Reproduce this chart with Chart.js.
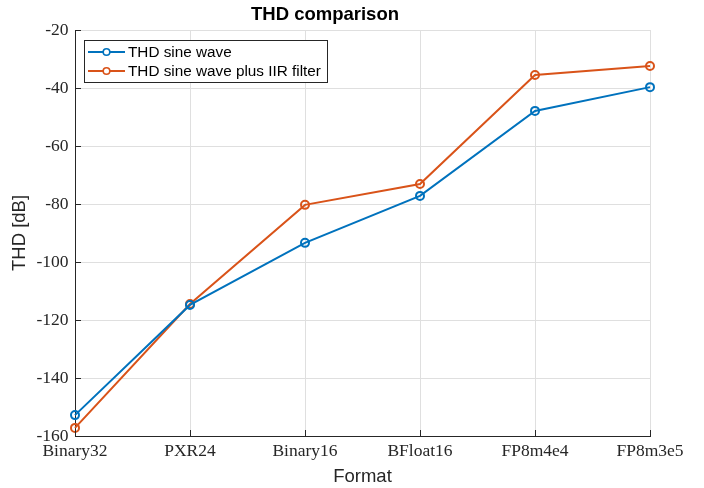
<!DOCTYPE html>
<html>
<head>
<meta charset="utf-8">
<script src="https://cdn.jsdelivr.net/npm/chart.js@4"></script>
<style>
  html, body { margin: 0; padding: 0; background: #ffffff; }
  #wrap { width: 704px; height: 488px; }
</style>
</head>
<body>
<div id="wrap"><canvas id="c" width="704" height="488"></canvas></div>
<script>
const categories = ["Binary32", "PXR24", "Binary16", "BFloat16", "FP8m4e4", "FP8m3e5"];
const sineWave = [-152.8, -114.8, -93.4, -77.2, -47.9, -39.7];
const sineWaveIIR = [-157.2, -114.5, -80.3, -73.1, -35.5, -32.4];
const seriesLabels = ["THD sine wave", "THD sine wave plus IIR filter"];
const yTicks = [-160, -140, -120, -100, -80, -60, -40, -20];

const BLUE = '#0072BD';
const ORANGE = '#D95319';
const AXIS = '#262626';

const innerTicks = {
  id: 'innerTicks',
  afterDraw(chart) {
    const ctx = chart.ctx;
    const a = chart.chartArea;
    const xs = chart.scales.x, ys = chart.scales.y;
    ctx.save();
    ctx.strokeStyle = AXIS;
    ctx.lineWidth = 1;
    ctx.beginPath();
    xs.ticks.forEach((t, i) => {
      const px = Math.round(xs.getPixelForTick(i)) + 0.5;
      ctx.moveTo(px, a.bottom);
      ctx.lineTo(px, a.bottom - 6);
    });
    ys.ticks.forEach((t, i) => {
      const py = Math.round(ys.getPixelForTick(i)) + 0.5;
      ctx.moveTo(a.left, py);
      ctx.lineTo(a.left + 6, py);
    });
    ctx.stroke();
    ctx.restore();
  }
};

const boxLegend = {
  id: 'boxLegend',
  afterDatasetsDraw(chart) {
    const ctx = chart.ctx;
    const x0 = 84.5, y0 = 40.5, w = 243, h = 42;
    ctx.save();
    ctx.fillStyle = '#ffffff';
    ctx.fillRect(x0, y0, w, h);
    ctx.strokeStyle = AXIS;
    ctx.lineWidth = 1;
    ctx.strokeRect(x0, y0, w, h);
    ctx.font = '15.3px "Liberation Sans", Arial, sans-serif';
    ctx.textBaseline = 'middle';
    ctx.textAlign = 'left';
    chart.data.datasets.forEach((ds, i) => {
      const yy = 52 + i * 19;
      ctx.strokeStyle = ds.borderColor;
      ctx.lineWidth = 2;
      ctx.beginPath();
      ctx.moveTo(88, yy);
      ctx.lineTo(125, yy);
      ctx.stroke();
      ctx.beginPath();
      ctx.arc(106.5, yy, 3.3, 0, Math.PI * 2);
      ctx.fillStyle = '#ffffff';
      ctx.fill();
      ctx.lineWidth = 1.6;
      ctx.stroke();
      ctx.fillStyle = '#000000';
      ctx.fillText(ds.label, 128, yy + 1);
    });
    ctx.restore();
  }
};

new Chart(document.getElementById('c'), {
  type: 'line',
  data: {
    labels: categories,
    datasets: [
      {
        label: seriesLabels[0],
        data: sineWave,
        borderColor: BLUE,
        backgroundColor: BLUE,
        borderWidth: 2,
        pointRadius: 4,
        pointBorderWidth: 2,
        pointBackgroundColor: 'rgba(255,255,255,0)',
        pointBorderColor: BLUE,
        tension: 0,
        clip: false
      },
      {
        label: seriesLabels[1],
        data: sineWaveIIR,
        borderColor: ORANGE,
        backgroundColor: ORANGE,
        borderWidth: 2,
        pointRadius: 4,
        pointBorderWidth: 2,
        pointBackgroundColor: 'rgba(255,255,255,0)',
        pointBorderColor: ORANGE,
        tension: 0,
        clip: false
      }
    ]
  },
  options: {
    responsive: false,
    animation: false,
    devicePixelRatio: 1,
    layout: { padding: { left: 0, right: 54, top: 0, bottom: 0 } },
    plugins: {
      legend: { display: false },
      tooltip: { enabled: false },
      title: {
        display: true,
        text: 'THD comparison',
        color: '#000000',
        font: { family: '"Liberation Sans", Arial, sans-serif', size: 18.5, weight: 'bold' },
        padding: { top: 4, bottom: 3.8 }
      }
    },
    scales: {
      x: {
        type: 'category',
        offset: false,
        grid: { color: '#dfdfdf', lineWidth: 1, drawTicks: false, offset: false },
        border: { color: AXIS, width: 1 },
        ticks: {
          color: '#262626',
          font: { family: '"Liberation Serif", "Times New Roman", serif', size: 17.5 },
          padding: 5,
          maxRotation: 0,
          autoSkip: false
        },
        title: {
          display: true,
          text: 'Format',
          color: '#262626',
          font: { family: '"Liberation Sans", Arial, sans-serif', size: 18.5 },
          padding: { top: 0, bottom: 0 }
        },
        afterFit(scale) { scale.height = 52; }
      },
      y: {
        min: -160,
        max: -20,
        grid: { color: '#dfdfdf', lineWidth: 1, drawTicks: false },
        border: { color: AXIS, width: 1 },
        afterBuildTicks(scale) { scale.ticks = yTicks.map(v => ({ value: v })); },
        ticks: {
          color: '#262626',
          font: { family: '"Liberation Serif", "Times New Roman", serif', size: 17.5 },
          padding: 6.5
        },
        title: {
          display: true,
          text: 'THD [dB]',
          color: '#262626',
          font: { family: '"Liberation Sans", Arial, sans-serif', size: 18.5 },
          padding: { top: 9, bottom: 0 }
        },
        afterFit(scale) { scale.width = 75; }
      }
    }
  },
  plugins: [innerTicks, boxLegend]
});
</script>
</body>
</html>
